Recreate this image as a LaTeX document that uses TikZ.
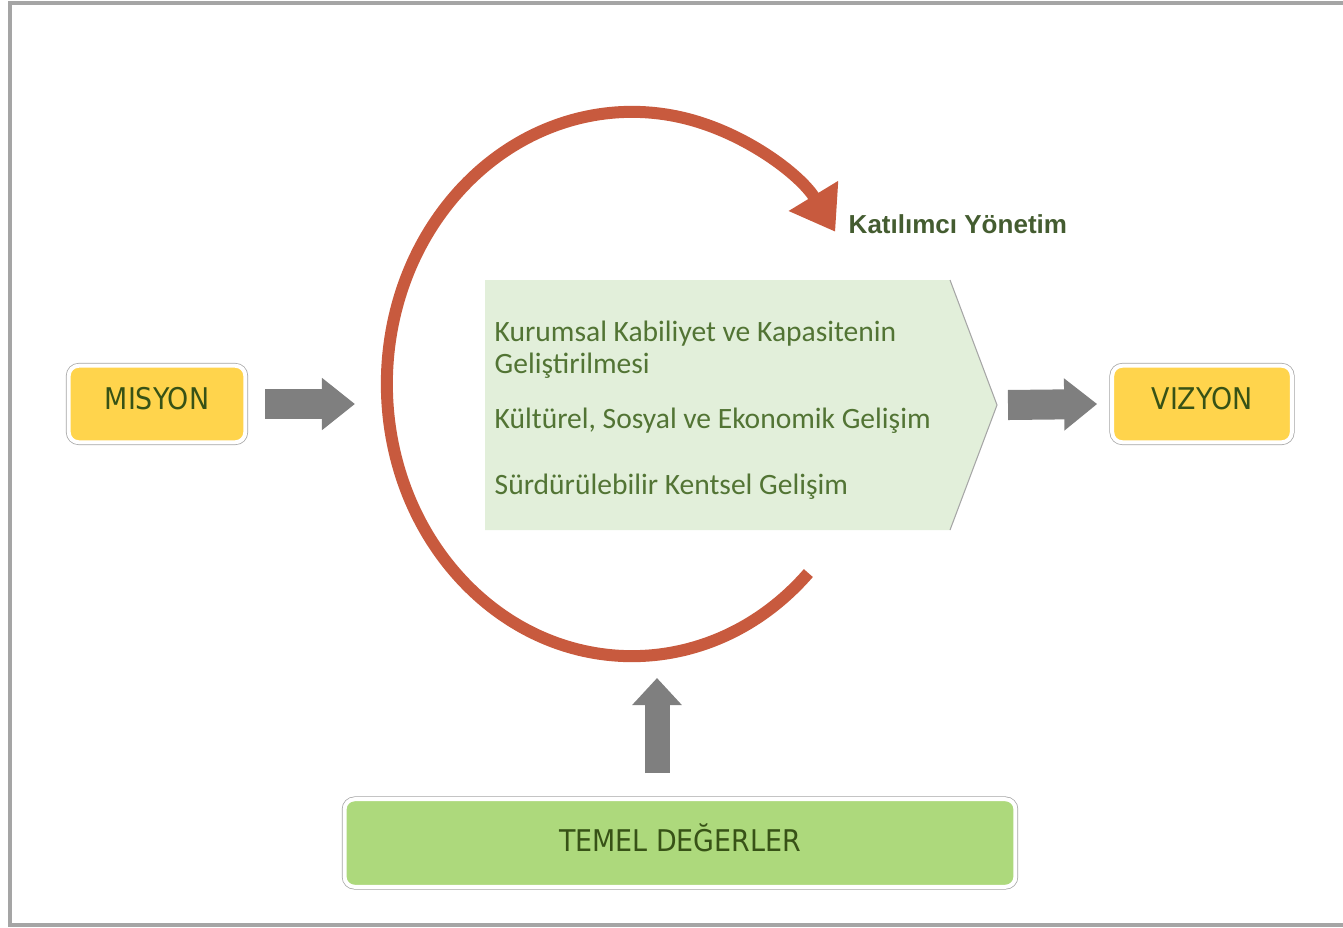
\documentclass[tikz,border=0pt]{standalone}
\usepackage{fontspec}
\usetikzlibrary{arrows.meta,calc}
\newfontfamily\boxfont{DejaVu Sans Condensed}
\newfontfamily\chevfont{Carlito}
\newfontfamily\katfont{Liberation Sans}
\definecolor{boxyellow}{RGB}{255,212,76}
\definecolor{boxgreen}{RGB}{173,217,124}
\definecolor{chevgreen}{RGB}{226,239,218}
\definecolor{txtgreen}{RGB}{55,82,22}
\definecolor{chevtxt}{RGB}{82,116,52}
\definecolor{kattxt}{RGB}{68,92,48}
\definecolor{framegray}{RGB}{165,165,165}
\definecolor{arrowgray}{RGB}{127,127,127}
\definecolor{cycred}{RGB}{200,90,62}
\begin{document}
\begin{tikzpicture}[x=0.01cm,y=-0.01cm,
  labelbox/.style={rounded corners=0.1cm, draw=white, line width=0.04cm,
    preaction={draw=framegray, line width=0.055cm},
    text=txtgreen, font=\boxfont\fontsize{8.5pt}{10pt}\selectfont,
    text height=0.22cm, text depth=0.12cm, inner sep=0pt},
  chevtext/.style={anchor=base west, inner sep=0pt, text=chevtxt,
    font=\chevfont\fontsize{8.4pt}{10pt}\selectfont},
  blockarrow/.style={draw=arrowgray, line width=0.3cm,
    -{Triangle[width=0.5cm,length=0.33cm]}},
  cyclearrow/.style={draw=cycred, line width=0.12cm,
    -{Triangle[width=0.55cm,length=0.42cm]}}
]
\useasboundingbox (0,0) rectangle (1343,927);
\draw[framegray, line width=0.035cm] (1343,3) -- (10,3) -- (10,925) -- (1343,925);

% chevron with the three aims
\fill[chevgreen] (485,280) -- (950,280) -- (997,405) -- (950,530) -- (485,530) -- cycle;
\draw[gray!70, line width=0.3pt] (950,280) -- (997,405) -- (950,530);
\coordinate (tip) at (997,405);
\node[chevtext] (t1) at (494,341) {Kurumsal Kabiliyet ve Kapasitenin};
\node[chevtext] (t2) at (494,373) {Geliştirilmesi};
\node[chevtext] (t3) at (494,428) {Kültürel, Sosyal ve Ekonomik Gelişim};
\node[chevtext] (t4) at (494,494) {Sürdürülebilir Kentsel Gelişim};

% boxes
\node[labelbox, fill=boxyellow, minimum width=1.765cm, minimum height=0.765cm] (misyon) at (157,404) {MISYON};
\node[labelbox, fill=boxyellow, minimum width=1.795cm, minimum height=0.765cm] (vizyon) at (1202,404) {VIZYON};
\node[labelbox, fill=boxgreen, minimum width=6.705cm, minimum height=0.875cm, text depth=0.06cm] (temel) at (680,843) {TEMEL DEĞERLER};

% cycle arrow
\coordinate (c) at (632,384);
\draw[cyclearrow] (c) ++(-44:2.45cm and 2.72cm)
  arc[start angle=-44, end angle=-326, x radius=2.45cm, y radius=2.72cm];
\node[anchor=base west, inner sep=0pt, text=kattxt,
  font=\katfont\bfseries\fontsize{7.4pt}{9pt}\selectfont] (kat) at (848,233) {Katılımcı Yönetim};

% block arrows
\coordinate (m1) at ($(misyon.east)+(18,0)$);
\coordinate (m2) at (355,404);
\draw[blockarrow] (m1) -- (m2);
\coordinate (v1) at ($(tip)+(11,0)$);
\coordinate (v2) at ($(vizyon.west)+(-13,0)$);
\draw[blockarrow] (v1) -- (v2);
\coordinate (u1) at ($(temel.north)+(-23,-24)$);
\coordinate (u2) at (657,678);
\draw[draw=arrowgray, line width=0.25cm, -{Triangle[width=0.48cm,length=0.27cm]}] (u1) -- (u2);
\end{tikzpicture}
\end{document}
